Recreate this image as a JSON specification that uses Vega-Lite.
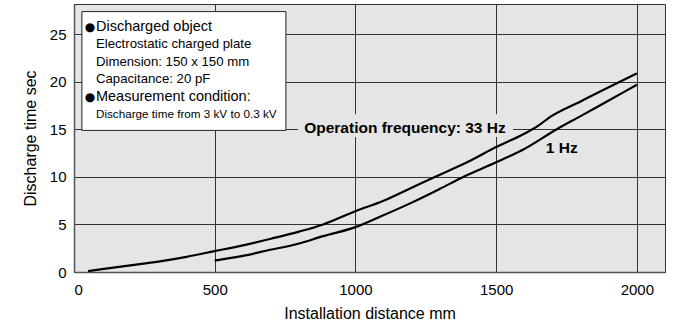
{
  "$schema": "https://vega.github.io/schema/vega-lite/v6.json",
  "autosize": {"type": "none"},
  "padding": {"left": 74, "top": 4, "right": 10, "bottom": 59},
  "width": 591,
  "height": 268,
  "background": "white",
  "config": {
    "font": "Liberation Sans",
    "view": {"fill": "#e5e5e5", "stroke": "#333333", "strokeWidth": 1},
    "axis": {
      "grid": true,
      "gridColor": "#333333",
      "gridWidth": 1,
      "gridOpacity": 1,
      "ticks": false,
      "tickSize": 0,
      "domainColor": "#555555",
      "domainWidth": 1.5,
      "labelFont": "Liberation Sans",
      "labelFontSize": 15,
      "labelColor": "#000000",
      "titleFont": "Liberation Sans",
      "titleFontSize": 16,
      "titleFontWeight": "normal",
      "titleColor": "#000000"
    }
  },
  "datasets": {
    "curves": [
      {"series": "33 Hz", "distance": 50, "time": 0.1},
      {"series": "33 Hz", "distance": 100, "time": 0.3},
      {"series": "33 Hz", "distance": 200, "time": 0.7},
      {"series": "33 Hz", "distance": 300, "time": 1.1},
      {"series": "33 Hz", "distance": 400, "time": 1.6},
      {"series": "33 Hz", "distance": 500, "time": 2.2},
      {"series": "33 Hz", "distance": 600, "time": 2.8},
      {"series": "33 Hz", "distance": 700, "time": 3.5},
      {"series": "33 Hz", "distance": 800, "time": 4.25},
      {"series": "33 Hz", "distance": 885, "time": 5.0},
      {"series": "33 Hz", "distance": 1000, "time": 6.4},
      {"series": "33 Hz", "distance": 1100, "time": 7.5},
      {"series": "33 Hz", "distance": 1200, "time": 8.87},
      {"series": "33 Hz", "distance": 1282, "time": 10.0},
      {"series": "33 Hz", "distance": 1400, "time": 11.6},
      {"series": "33 Hz", "distance": 1500, "time": 13.15},
      {"series": "33 Hz", "distance": 1600, "time": 14.55},
      {"series": "33 Hz", "distance": 1650, "time": 15.4},
      {"series": "33 Hz", "distance": 1691, "time": 16.3},
      {"series": "33 Hz", "distance": 1800, "time": 17.95},
      {"series": "33 Hz", "distance": 1900, "time": 19.45},
      {"series": "33 Hz", "distance": 2000, "time": 20.9},
      {"series": "1 Hz", "distance": 500, "time": 1.2},
      {"series": "1 Hz", "distance": 600, "time": 1.7},
      {"series": "1 Hz", "distance": 686, "time": 2.26},
      {"series": "1 Hz", "distance": 800, "time": 3.0},
      {"series": "1 Hz", "distance": 885, "time": 3.77},
      {"series": "1 Hz", "distance": 1000, "time": 4.72},
      {"series": "1 Hz", "distance": 1087, "time": 5.81},
      {"series": "1 Hz", "distance": 1200, "time": 7.3},
      {"series": "1 Hz", "distance": 1300, "time": 8.75},
      {"series": "1 Hz", "distance": 1383, "time": 10.0},
      {"series": "1 Hz", "distance": 1500, "time": 11.55},
      {"series": "1 Hz", "distance": 1600, "time": 12.95},
      {"series": "1 Hz", "distance": 1714, "time": 15.0},
      {"series": "1 Hz", "distance": 1800, "time": 16.4},
      {"series": "1 Hz", "distance": 1900, "time": 18.05},
      {"series": "1 Hz", "distance": 2000, "time": 19.7}
    ],
    "boxes": [
      {"kind": "legend", "x": 28, "x2": 753, "y": 14.9, "y2": 27.4},
      {"kind": "labelbg", "x": 796, "x2": 1560, "y": 14.2, "y2": 16.6}
    ],
    "notes": [
      {"kind": "bullet", "text": "●", "x": 38, "y": 25.8},
      {"kind": "head", "text": "Discharged object", "x": 78, "y": 25.8},
      {"kind": "body", "text": "Electrostatic charged plate", "x": 78, "y": 23.98},
      {"kind": "body", "text": "Dimension: 150 x 150 mm", "x": 78, "y": 22.1},
      {"kind": "body", "text": "Capacitance: 20 pF", "x": 78, "y": 20.28},
      {"kind": "bullet", "text": "●", "x": 38, "y": 18.4},
      {"kind": "head", "text": "Measurement condition:", "x": 78, "y": 18.4},
      {"kind": "small", "text": "Discharge time from 3 kV to 0.3 kV", "x": 78, "y": 16.6},
      {"kind": "label", "text": "Operation frequency: 33 Hz", "x": 1176, "y": 15.2},
      {"kind": "label", "text": "1 Hz", "x": 1733, "y": 13.1}
    ]
  },
  "layer": [
    {
      "data": {"name": "boxes"},
      "transform": [{"filter": "datum.kind === 'legend'"}],
      "mark": {"type": "rect", "fill": "white", "stroke": "#222222", "strokeWidth": 1},
      "encoding": {
        "x": {"field": "x", "type": "quantitative", "scale": {"domain": [0, 2100], "nice": false, "zero": false},
          "axis": {"values": [0, 500, 1000, 1500, 2000], "format": "d", "title": "Installation distance mm", "labelPadding": 10, "titlePadding": 8}},
        "x2": {"field": "x2"},
        "y": {"field": "y", "type": "quantitative", "scale": {"domain": [0, 28.2], "nice": false, "zero": false},
          "axis": {"values": [0, 5, 10, 15, 20, 25], "format": "d", "title": "Discharge time sec", "labelPadding": 8, "titlePadding": 11}},
        "y2": {"field": "y2"}
      }
    },
    {
      "data": {"name": "boxes"},
      "transform": [{"filter": "datum.kind === 'labelbg'"}],
      "mark": {"type": "rect", "fill": "#e5e5e5"},
      "encoding": {
        "x": {"field": "x", "type": "quantitative"},
        "x2": {"field": "x2"},
        "y": {"field": "y", "type": "quantitative"},
        "y2": {"field": "y2"}
      }
    },
    {
      "data": {"name": "curves"},
      "mark": {"type": "line", "color": "black", "strokeWidth": 2.2, "interpolate": "monotone"},
      "encoding": {
        "x": {"field": "distance", "type": "quantitative"},
        "y": {"field": "time", "type": "quantitative"},
        "detail": {"field": "series"}
      }
    },
    {
      "data": {"name": "notes"},
      "transform": [{"filter": "datum.kind === 'bullet'"}],
      "mark": {"type": "text", "align": "left", "baseline": "middle", "fontSize": 12, "font": "DejaVu Sans", "color": "black"},
      "encoding": {
        "x": {"field": "x", "type": "quantitative"},
        "y": {"field": "y", "type": "quantitative"},
        "text": {"field": "text"}
      }
    },
    {
      "data": {"name": "notes"},
      "transform": [{"filter": "datum.kind === 'head'"}],
      "mark": {"type": "text", "align": "left", "baseline": "middle", "fontSize": 14.5, "color": "black"},
      "encoding": {
        "x": {"field": "x", "type": "quantitative"},
        "y": {"field": "y", "type": "quantitative"},
        "text": {"field": "text"}
      }
    },
    {
      "data": {"name": "notes"},
      "transform": [{"filter": "datum.kind === 'body'"}],
      "mark": {"type": "text", "align": "left", "baseline": "middle", "fontSize": 13.2, "color": "black"},
      "encoding": {
        "x": {"field": "x", "type": "quantitative"},
        "y": {"field": "y", "type": "quantitative"},
        "text": {"field": "text"}
      }
    },
    {
      "data": {"name": "notes"},
      "transform": [{"filter": "datum.kind === 'small'"}],
      "mark": {"type": "text", "align": "left", "baseline": "middle", "fontSize": 11.7, "color": "black"},
      "encoding": {
        "x": {"field": "x", "type": "quantitative"},
        "y": {"field": "y", "type": "quantitative"},
        "text": {"field": "text"}
      }
    },
    {
      "data": {"name": "notes"},
      "transform": [{"filter": "datum.kind === 'label'"}],
      "mark": {"type": "text", "align": "center", "baseline": "middle", "fontSize": 15.5, "fontWeight": "bold", "color": "black"},
      "encoding": {
        "x": {"field": "x", "type": "quantitative"},
        "y": {"field": "y", "type": "quantitative"},
        "text": {"field": "text"}
      }
    }
  ]
}
